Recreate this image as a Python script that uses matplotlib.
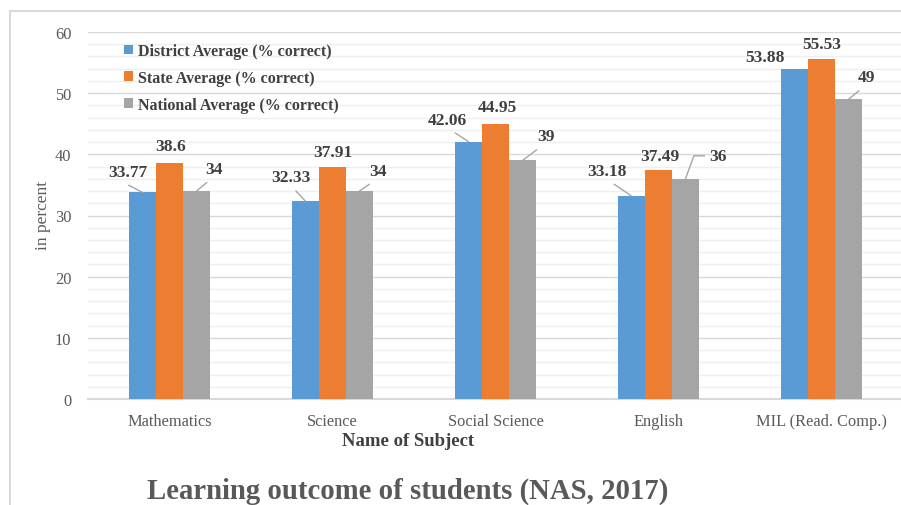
import matplotlib
matplotlib.use("Agg")
import matplotlib.pyplot as plt
import numpy as np
from matplotlib.patches import Rectangle
from matplotlib.ticker import MultipleLocator

categories = ["Mathematics", "Science", "Social Science", "English", "MIL (Read. Comp.)"]
district = [33.77, 32.33, 42.06, 33.18, 53.88]
state = [38.6, 37.91, 44.95, 37.49, 55.53]
national = [34, 34, 39, 36, 49]
series_names = ["District Average (% correct)", "State Average (% correct)", "National Average (% correct)"]
colors = ["#5b9bd5", "#ed7d31", "#a5a5a5"]

# label placement (pixel offsets from bar top): (dx, dy, leader style, relpos x)
district_off = [(-15, 20, "line", 0.3), (-15, 24, "line", 0.5), (-21, 22, "line", 0.5),
                (-25, 25, "line", 0.5), (-30, 12, None, 0.5)]
state_off = [(1, 17, None, 0.5), (0, 15, None, 0.5), (2, 17, None, 0.5), (1, 14, None, 0.5), (0, 15, None, 0.5)]
national_off = [(17, 22, "line", 0.5), (19, 20, "line", 0.4), (23, 24, "line", 0.4),
                (32, 23, "elbow", 0.0), (18, 22, "line", 0.45)]

plt.rcParams["font.family"] = ["Liberation Serif", "DejaVu Serif"]

W, H = 901, 506
fig = plt.figure(figsize=(W / 100, H / 100), dpi=100)
fig.patch.set_facecolor("white")

# outer frame
fig.add_artist(Rectangle((10 / W, -0.05), 1.2, (H - 12) / H + 0.05, transform=fig.transFigure,
                         fill=False, edgecolor="#d9d9d9", linewidth=1.5))

ax = fig.add_axes([88 / W, 106 / H, (W - 88) / W, 367 / H])
x = np.arange(len(categories))
bw = 27 / 163
all_series = [district, state, national]
all_offs = [district_off, state_off, national_off]
for i, (vals, name, col) in enumerate(zip(all_series, series_names, colors)):
    xs = x + (i - 1) * bw
    ax.bar(xs, vals, width=bw, color=col, label=name, zorder=3)
    for xi, v, (dx, dy, lead, rx) in zip(xs, vals, all_offs[i]):
        ap = None
        if lead == "line":
            ap = dict(arrowstyle="-", color="#a6a6a6", lw=1, shrinkA=3, shrinkB=0,
                      relpos=(rx, 0))
        elif lead == "elbow":
            ap = dict(arrowstyle="-", color="#a6a6a6", lw=1, shrinkA=1, shrinkB=0,
                      relpos=(0, 0.5), connectionstyle="angle,angleA=180,angleB=70,rad=0")
        ax.annotate(f"{v:g}", xy=(xi, v), xytext=(dx, dy), textcoords="offset pixels",
                    ha="center", va="center", fontsize=12.5, fontweight="bold",
                    color="#404040", arrowprops=ap, zorder=5)

ax.set_xlim(-0.5, (W - 88) / 163 - 0.5)
ax.set_ylim(0, 60)
ax.yaxis.set_major_locator(MultipleLocator(10))
ax.yaxis.set_minor_locator(MultipleLocator(2))
ax.grid(axis="y", which="major", color="#d9d9d9", lw=1, zorder=0)
ax.grid(axis="y", which="minor", color="#efefef", lw=1, zorder=0)
ax.set_axisbelow(True)
for s in ["top", "right", "left"]:
    ax.spines[s].set_visible(False)
ax.spines["bottom"].set_color("#d9d9d9")
ax.spines["bottom"].set_linewidth(1.5)
ax.set_xticks(x)
ax.set_xticklabels(categories)
ax.tick_params(axis="both", which="both", length=0, labelsize=11.8, colors="#595959")
ax.tick_params(axis="x", pad=10)
ax.tick_params(axis="y", pad=12)

fig.text(43 / W, 1 - 215 / H, "in percent", rotation=90, ha="center", va="center",
         fontsize=12.5, color="#595959")
fig.text(408 / W, 1 - 442 / H, "Name of Subject", ha="center", va="center",
         fontsize=13.5, fontweight="bold", color="#404040")
fig.text(408 / W, 1 - 491 / H, "Learning outcome of students (NAS, 2017)", ha="center", va="center",
         fontsize=20.7, fontweight="bold", color="#595959")

leg = ax.legend(loc="upper left", bbox_to_anchor=(124 / W, 1 - 44 / H), bbox_transform=fig.transFigure,
                frameon=False, fontsize=11.5, handlelength=0.55, handleheight=0.55,
                handletextpad=0.3, labelspacing=0.68, borderaxespad=0, borderpad=0)
for t in leg.get_texts():
    t.set_fontweight("bold")
    t.set_color("#404040")

fig.savefig("out.png", dpi=100, facecolor="white")
